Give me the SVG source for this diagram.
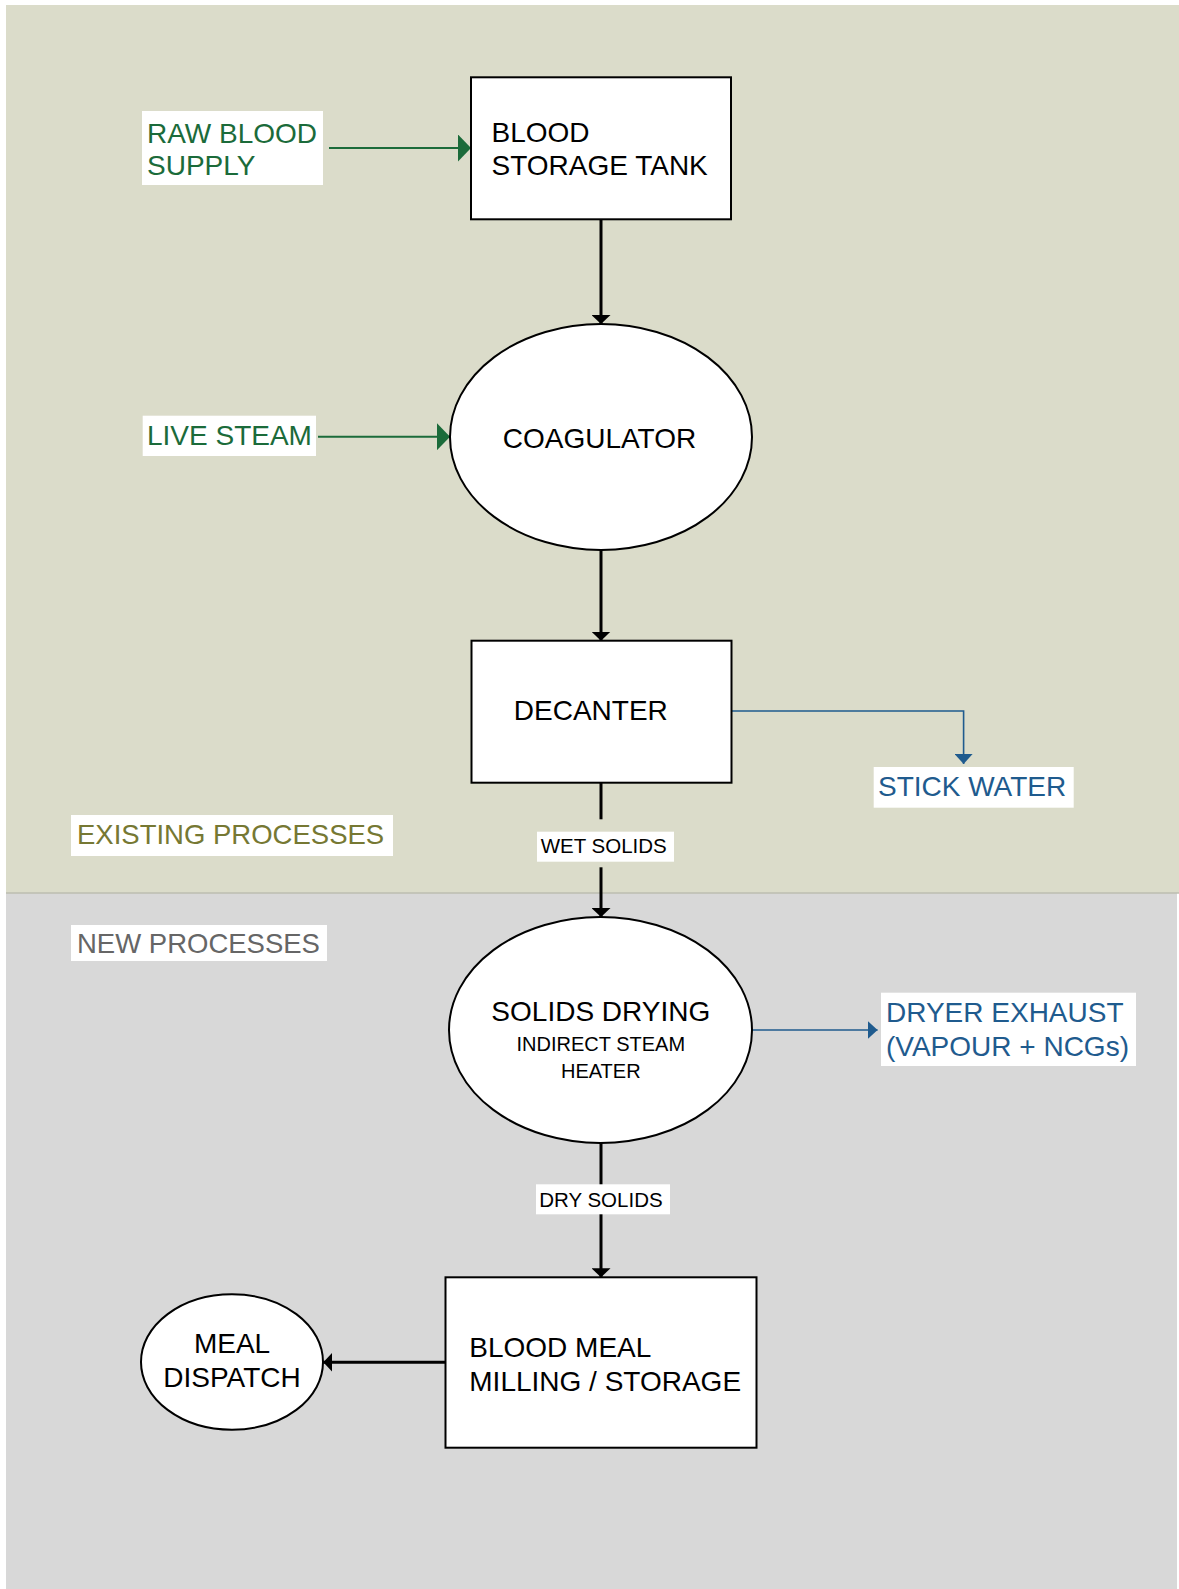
<svg xmlns="http://www.w3.org/2000/svg" width="1179" height="1589" viewBox="0 0 1179 1589">
<style>
text{font-family:"Liberation Sans",Arial,sans-serif}
.node{fill:#fff;stroke:#000;stroke-width:2}
.t28{font-size:28px;fill:#000}
.t20{font-size:20.5px;fill:#000}
.lbl{fill:#fff}
.blk{stroke:#000;stroke-width:3;fill:none}
.grn{stroke:#1B6B3A;stroke-width:2;fill:none}
.blu{stroke:#1F5B8E;stroke-width:1.6;fill:none}
.g{fill:#1B6B3A;font-size:28px}
.b{fill:#1F5B8E;font-size:28px}
</style>
<defs>
<marker id="mb" markerUnits="userSpaceOnUse" viewBox="0 0 9 19" markerWidth="9" markerHeight="19" refX="9" refY="9.5" orient="auto"><path d="M0,0L9,9.5L0,19z" fill="#000"/></marker>
<marker id="mg" markerUnits="userSpaceOnUse" viewBox="0 0 13 27" markerWidth="13" markerHeight="27" refX="13" refY="13.5" orient="auto"><path d="M0,0L13,13.5L0,27z" fill="#1B6B3A"/></marker>
<marker id="mu" markerUnits="userSpaceOnUse" viewBox="0 0 10 18" markerWidth="10" markerHeight="18" refX="10" refY="9" orient="auto"><path d="M0,0L10,9L0,18z" fill="#1F5B8E"/></marker>
</defs>
<rect x="0" y="0" width="1179" height="1589" fill="#fff"/>
<g id="zones">
<rect x="6" y="5" width="1173" height="888" fill="#DBDCCA"/>
<rect x="6" y="893" width="1171" height="696" fill="#D8D8D8"/>
<line x1="6" y1="893" x2="1179" y2="893" stroke="#BDBEB0" stroke-width="1.5"/>
<g id="existing-label"><rect class="lbl" x="71" y="815" width="322" height="41"/><text x="77" y="844.3" font-size="27.5" fill="#767833">EXISTING PROCESSES</text></g>
<g id="new-label"><rect class="lbl" x="71" y="925" width="256" height="36"/><text x="77" y="953.3" font-size="27.5" fill="#666">NEW PROCESSES</text></g>
</g>
<g id="connectors">
<path class="grn" d="M329,148H471" marker-end="url(#mg)"/>
<path class="grn" d="M318,436.7H450" marker-end="url(#mg)"/>
<path class="blk" d="M601,219.3V324" marker-end="url(#mb)"/>
<path class="blk" d="M601,550V640.7" marker-end="url(#mb)"/>
<path class="blu" d="M731.5,711H963.6V764" marker-end="url(#mu)"/>
<path class="blk" d="M601,782.7V819.3"/>
<path class="blk" d="M601,867.3V917" marker-end="url(#mb)"/>
<path class="blu" d="M752,1030H877.6" marker-end="url(#mu)"/>
<path class="blk" d="M601,1143V1277.3" marker-end="url(#mb)"/>
<path class="blk" d="M445.5,1362.3H323.3" marker-end="url(#mb)"/>
<g id="wet-solids"><rect class="lbl" x="537" y="831.7" width="137" height="30"/><text class="t20" x="540.7" y="853.3">WET SOLIDS</text></g>
<g id="dry-solids"><rect class="lbl" x="536" y="1184.3" width="134" height="30"/><text class="t20" x="539.2" y="1207.3">DRY SOLIDS</text></g>
</g>
<g id="raw-blood-supply"><rect class="lbl" x="142" y="111" width="181" height="74"/><text class="g" x="147" y="142.5">RAW BLOOD</text><text class="g" x="147" y="175">SUPPLY</text></g>
<g id="live-steam"><rect class="lbl" x="142.7" y="415.7" width="173.3" height="40.3"/><text class="g" x="147" y="445">LIVE STEAM</text></g>
<g id="blood-storage-tank"><rect class="node" x="471" y="77.3" width="260" height="142"/><text class="t28" x="491.5" y="141.5">BLOOD</text><text class="t28" x="491.5" y="174.5">STORAGE TANK</text></g>
<g id="coagulator"><ellipse class="node" cx="601" cy="437" rx="151" ry="113"/><text class="t28" x="599.5" y="448" text-anchor="middle">COAGULATOR</text></g>
<g id="decanter"><rect class="node" x="471.5" y="640.7" width="260" height="142"/><text class="t28" x="513.8" y="720">DECANTER</text></g>
<g id="stick-water"><rect class="lbl" x="873.7" y="767" width="200" height="40.7"/><text class="b" x="878" y="796">STICK WATER</text></g>
<g id="solids-drying"><ellipse class="node" cx="600.5" cy="1030" rx="151.5" ry="113"/><text class="t28" x="600.8" y="1020.7" text-anchor="middle">SOLIDS DRYING</text><text x="600.8" y="1051" font-size="20" text-anchor="middle">INDIRECT STEAM</text><text x="600.8" y="1077.7" font-size="20" text-anchor="middle">HEATER</text></g>
<g id="dryer-exhaust"><rect class="lbl" x="881" y="992.7" width="255" height="73.3"/><text class="b" x="886" y="1022.3" font-size="27.5">DRYER EXHAUST</text><text class="b" x="886" y="1055.7" font-size="27.5">(VAPOUR + NCGs)</text></g>
<g id="blood-meal-milling"><rect class="node" x="445.5" y="1277.3" width="311" height="170.4"/><text class="t28" x="469.3" y="1356.7" font-size="27.5">BLOOD MEAL</text><text class="t28" x="469.3" y="1390.7" font-size="27.5">MILLING / STORAGE</text></g>
<g id="meal-dispatch"><ellipse class="node" cx="232" cy="1362" rx="91" ry="67.7"/><text class="t28" x="232" y="1353.3" text-anchor="middle" font-size="27.5">MEAL</text><text class="t28" x="232" y="1387.3" text-anchor="middle" font-size="27.5">DISPATCH</text></g>
</svg>
